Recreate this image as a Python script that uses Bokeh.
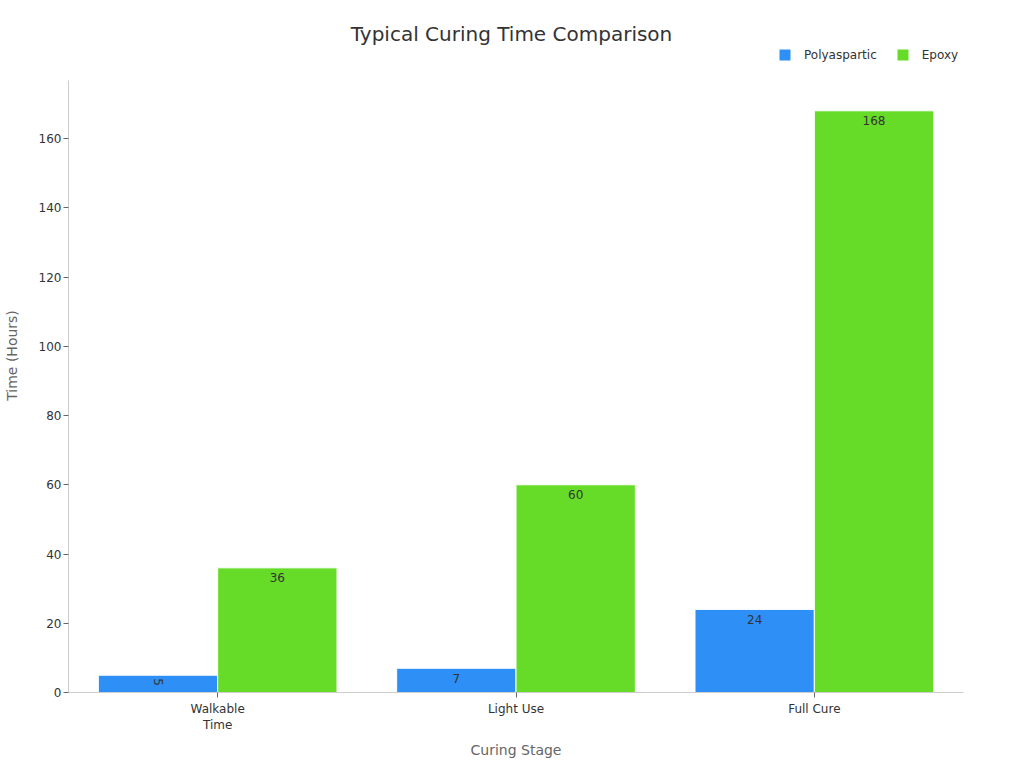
import math
from bokeh.plotting import figure
from bokeh.models import ColumnDataSource, FactorRange, Label, Legend, LegendItem
from bokeh.core.properties import value
from bokeh.embed import file_html
from bokeh.resources import INLINE
from bokeh.transform import dodge

# data
stages = ["Walkable\nTime", "Light Use", "Full Cure"]
polyaspartic = [5, 7, 24]
epoxy = [36, 60, 168]

blue = "#2E90F7"
green = "#66DB28"
font = "DejaVu Sans"

src = ColumnDataSource(data=dict(stage=stages, poly=polyaspartic, epoxy=epoxy))

# frame reaches above the y axis end so the legend can sit inside it
y_top = 176.75
p = figure(x_range=FactorRange(*stages), y_range=(0, 194.66),
           frame_width=895, frame_height=674, output_backend="svg", toolbar_location=None,
           min_border_left=62, min_border_right=36, min_border_top=18, min_border_bottom=68)
p.outline_line_color = None
p.grid.grid_line_color = None
p.x_range.range_padding = 0

r1 = p.vbar(x=dodge("stage", -0.2, range=p.x_range), top="poly", width=0.4, source=src,
            fill_color=blue, line_color="white", line_width=1)
r2 = p.vbar(x=dodge("stage", 0.2, range=p.x_range), top="epoxy", width=0.4, source=src,
            fill_color=green, line_color="white", line_width=1)

# value labels inside the bars (short bars get a turned label)
for vals, d in [(polyaspartic, -0.2), (epoxy, 0.2)]:
    for turned in (False, True):
        pick = [(s, v) for s, v in zip(stages, vals) if (v < 6) == turned]
        if not pick:
            continue
        ls = ColumnDataSource(data=dict(x=[a for a, b in pick], y=[b for a, b in pick],
                                        t=[str(b) for a, b in pick]))
        p.text(x=dodge("x", d, range=p.x_range), y="y", text="t", source=ls,
               angle=-math.pi / 2 if turned else 0, y_offset=7 if turned else 10,
               text_align="center", text_baseline="middle", text_font_size="12px",
               text_color="#333333", text_font=value(font))

for ax in (p.xaxis[0], p.yaxis[0]):
    ax.axis_line_color = "#cccccc"
    ax.major_tick_line_color = "#666666"
    ax.minor_tick_line_color = None
    ax.major_tick_out = 5
    ax.major_tick_in = 0
    ax.major_label_text_font = font
    ax.major_label_text_font_size = "12px"
    ax.major_label_text_color = "#333333"
    ax.axis_label_text_font = font
    ax.axis_label_text_font_size = "14px"
    ax.axis_label_text_font_style = "normal"
    ax.axis_label_text_color = "#666666"
p.yaxis.ticker = [0, 20, 40, 60, 80, 100, 120, 140, 160]
p.yaxis.bounds = (0, y_top)
p.xaxis.axis_label = "Curing Stage"
p.yaxis.axis_label = "Time (Hours)"
p.xaxis.major_label_standoff = 4
p.xaxis.axis_label_standoff = 7
p.yaxis.major_label_standoff = 2
p.yaxis.axis_label_standoff = 16

p.add_layout(Label(x=443, y=659, x_units="screen", y_units="screen",
                   text="Typical Curing Time Comparison",
                   text_align="center", text_baseline="middle", text_font=font,
                   text_font_size="20px", text_color="#333333"))

legend = Legend(items=[LegendItem(label="Polyaspartic", renderers=[r1]),
                       LegendItem(label="Epoxy", renderers=[r2])],
                orientation="horizontal", location=(709, 630),
                glyph_width=15, glyph_height=15, label_standoff=12, spacing=18,
                label_text_font=font, label_text_font_size="12px", label_text_color="#333333",
                border_line_color=None, background_fill_alpha=0, padding=0, margin=0)
p.add_layout(legend, "center")

open("out.html", "w").write(file_html(p, INLINE))
